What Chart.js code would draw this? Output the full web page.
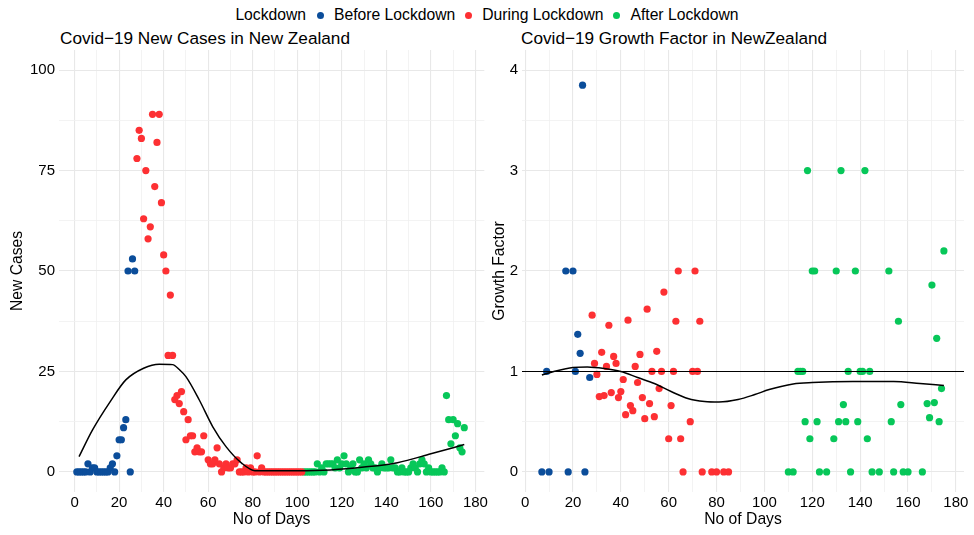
<!DOCTYPE html>
<html lang="en">
<head>
  <meta charset="UTF-8">
  <title>Covid-19 New Zealand</title>
  <script src="https://cdn.jsdelivr.net/npm/chart.js"></script>
  <style>
    body {
      margin: 0;
      background: #fff;
      font-family: "Liberation Sans", Arial, sans-serif;
      color: #000;
    }
    #wrap {
      position: relative;
      width: 974px;
      height: 535px;
      overflow: hidden;
    }
    canvas {
      position: absolute;
      top: 0;
    }
    #leftChart { left: 0; }
    #rightChart { left: 490px; }
    .panel-title {
      position: absolute;
      top: 28px;
      font-size: 17.2px;
      line-height: 20px;
      white-space: nowrap;
    }
    #legend {
      position: absolute;
      top: 5px;
      left: 0;
      width: 974px;
      display: flex;
      justify-content: center;
      align-items: center;
      font-size: 15.7px;
      line-height: 20px;
      white-space: nowrap;
    }
    #legend .name { margin-right: 11px; }
    #legend .dot {
      width: 7px;
      height: 7px;
      border-radius: 50%;
      margin-right: 10px;
    }
    #legend .lab { margin-right: 10px; }
    #legend .lab:last-child { margin-right: 0; }
  </style>
</head>
<body>
<div id="wrap">
  <div id="legend"></div>
  <div class="panel-title" style="left:60px">Covid−19 New Cases in New Zealand</div>
  <div class="panel-title" style="left:521px">Covid−19 Growth Factor in NewZealand</div>
  <canvas id="leftChart" width="490" height="535"></canvas>
  <canvas id="rightChart" width="484" height="535"></canvas>
</div>

<script>
  // lockdown phases
  const phaseNames = ['Before Lockdown', 'During Lockdown', 'After Lockdown'];
  const phaseColors = ['#0b4d9a', '#fd3033', '#07c759'];

  // new cases per day
  const beforeDays = [1,2,3,4,5,6,7,8,9,10,11,12,13,14,15,16,17,18,19,20,21,22,23,24,25,26,27];
  const beforeCases = [0,0,0,0,0,2,0,1,1,0,0,0,0,0,0,1,2,0,4,8,8,11,13,50,0,53,50];

  const duringDays = [28,29,30,31,32,33,34,35,36,37,38,39,40,41,42,43,44,45,46,47,48,49,50,51,52,53,54,55,56,57,58,
    60,61,62,63,64,65,66,67,68,69,70,71,72,73,74,75,76,77,78,79,80,81,82,83,84,85,86,87,88,89,90,91,92,93,94,95,96,97,98,99,100,101,102];
  const duringCases = [78,85,83,63,75,58,61,89,71,82,89,67,54,50,29,44,29,18,19,17,20,15,8,13,9,9,5,6,5,5,9,
    3,2,2,3,6,2,0,1,2,1,1,2,2,3,0,0,0,1,0,1,0,0,4,0,1,0,0,0,0,0,0,0,0,0,0,0,0,0,0,0,0,0,0];

  const afterDays = [103,104,105,106,107,108,109,110,111,112,113,114,115,116,117,118,119,120,121,122,123,124,125,126,127,128,129,130,
    131,132,133,134,135,136,137,138,139,140,141,142,143,144,145,146,147,148,149,150,151,152,153,154,155,156,157,158,159,160,
    161,162,163,164,165,166,167,168,169,170,171,172,173,174,175];
  const afterCases = [0,0,0,0,0,0,2,0,1,0,2,2,2,2,1,3,1,2,4,2,0,1,2,0,0,3,1,2,
    1,3,2,1,1,0,1,2,1,1,1,3,1,1,0,0,1,0,0,0,1,2,1,0,2,3,2,0,1,0,
    0,0,0,0,1,0,19,13,7,13,9,12,6,5,11];

  // growth factor per day
  const gfBeforeDays = [7,9,10,17,18,20,21,22,23,24,25,27];
  const gfBefore = [0,1,0,2,0,2,1,1.37,1.18,3.85,0,0.94];

  const gfDuringDays = [28,29,30,31,32,33,34,35,36,37,38,39,40,41,42,43,44,45,46,47,48,49,50,51,52,53,54,55,56,57,58,
    60,61,62,63,64,65,66,69,70,71,72,73,74,78,80,83,85];
  const gfDuring = [1.56,1.08,0.97,0.75,1.19,0.76,1.05,1.46,0.79,1.15,1.08,0.74,0.8,0.92,0.57,1.51,0.66,0.61,1.05,0.89,1.17,0.74,0.53,1.62,0.68,1.0,0.55,1.2,0.83,1.0,1.79,
    0.33,0.66,1.0,1.5,2.0,0.33,0,0.5,1,2,1,1.5,0,0,0,0,0];

  const gfAfterDays = [110,112,114,115,116,117,118,119,120,121,122,123,126,129,130,131,132,133,134,135,136,138,139,140,141,142,143,144,145,148,
    152,153,154,156,157,158,160,166,168,169,170,171,172,173,174,175];
  const gfAfter = [0,0,1,1,1,0.5,3,0.33,2,2,0.5,0,0,0.33,2,0.5,3,0.67,0.5,1,0,2,0.5,1,1,3,0.33,1,0,0,
    2,0.5,0,1.5,0.67,0,0,0,0.68,0.54,1.86,0.69,1.33,0.5,0.83,2.2];

  // smoothed trend lines
  const casesFitDays = [2,8,16,23,31,38,44,47,50,56,62,68,75,81,90,100,115,130,145,160,175];
  const casesFit = [3.8,10.4,17.5,22.9,25.8,26.8,26.7,25.5,23.7,17.9,11.3,6.3,2.2,0.3,0.3,0.3,0.5,1.2,2.3,4.5,6.8];

  const gfFitDays = [7,12,20,26,33,40,47,54,61,68,75,81,89,96,102,112,120,137,154,165,175];
  const gfFit = [0.965,1.0,1.04,1.045,1.03,1.0,0.94,0.88,0.8,0.73,0.70,0.695,0.72,0.77,0.82,0.876,0.89,0.90,0.90,0.88,0.86];

  const gfReference = 1;

  // axis ticks
  const dayTicks = [0,10,20,30,40,50,60,70,80,90,100,110,120,130,140,150,160,170,180];
  const casesTicks = [0,12.5,25,37.5,50,62.5,75,87.5,100];
  const gfTicks = [0,0.5,1,1.5,2,2.5,3,3.5,4];

  const FONT = '"Liberation Sans", Arial, sans-serif';
  const MAJOR = '#e8e8e8';
  const MINOR = '#f0f0f0';

  // legend
  const legend = document.getElementById('legend');
  legend.innerHTML = '<span class="name">Lockdown</span>' + phaseNames.map((n, i) =>
    '<span class="dot" style="background:' + phaseColors[i] + '"></span><span class="lab">' + n + '</span>').join('');

  const pts = (xs, ys) => xs.map((x, i) => ({ x: x, y: ys[i] }));

  const refLine = {
    id: 'refLine',
    afterDatasetsDraw(chart, args, opts) {
      if (!opts.show) return;
      const { ctx, chartArea: a, scales: { y } } = chart;
      const py = y.getPixelForValue(gfReference);
      ctx.save();
      ctx.strokeStyle = '#000';
      ctx.lineWidth = 1.1;
      ctx.beginPath();
      ctx.moveTo(a.left, py);
      ctx.lineTo(a.right, py);
      ctx.stroke();
      ctx.restore();
    }
  };

  function isMajor(c, every) {
    if (!c.tick) return false;
    const r = c.tick.value / every;
    return Math.abs(r - Math.round(r)) < 1e-6;
  }

  function gridStyle(every) {
    return {
      drawTicks: false,
      color: c => isMajor(c, every) ? MAJOR : MINOR,
      lineWidth: c => isMajor(c, every) ? 1.1 : 0.8
    };
  }

  function makePanel(id, series, fit, o) {
    const datasets = [{
      type: 'line',
      data: pts(fit.x, fit.y),
      borderColor: '#000',
      borderWidth: 1.5,
      pointRadius: 0,
      fill: false,
      cubicInterpolationMode: 'monotone',
      order: 0
    }];
    series.forEach((s, i) => {
      datasets.push({
        label: phaseNames[i],
        data: pts(s.x, s.y),
        backgroundColor: phaseColors[i],
        borderWidth: 0,
        pointRadius: 3.6,
        pointHoverRadius: 3.6,
        order: 1
      });
    });

    return new Chart(document.getElementById(id), {
      type: 'scatter',
      data: { datasets },
      options: {
        responsive: false,
        animation: false,
        devicePixelRatio: 1,
        layout: { padding: { left: 0, right: o.padRight, top: 50, bottom: 0 } },
        plugins: {
          legend: { display: false },
          tooltip: { enabled: false },
          refLine: { show: !!o.refLine }
        },
        scales: {
          x: {
            type: 'linear',
            min: o.xMin,
            max: o.xMax,
            afterBuildTicks: s => { s.ticks = dayTicks.map(v => ({ value: v })); },
            afterFit: s => { s.height = 43; },
            grid: gridStyle(20),
            border: { display: false },
            ticks: {
              autoSkip: false,
              maxRotation: 0,
              padding: 2,
              color: '#000',
              font: { family: FONT, size: 15 },
              callback: v => (v % 20 === 0 ? v : '')
            },
            title: {
              display: true,
              text: 'No of Days',
              color: '#000',
              font: { family: FONT, size: 15.7 },
              padding: { top: 0, bottom: 6 }
            }
          },
          y: {
            type: 'linear',
            min: o.yMin,
            max: o.yMax,
            afterBuildTicks: s => { s.ticks = o.yTicks.map(v => ({ value: v })); },
            afterFit: s => { s.width = o.yWidth; },
            grid: gridStyle(o.yMajor),
            border: { display: false },
            ticks: {
              autoSkip: false,
              padding: 4,
              color: '#000',
              font: { family: FONT, size: 15 },
              callback: v => (v % o.yMajor === 0 ? v : '')
            },
            title: {
              display: true,
              text: o.yTitle,
              color: '#000',
              font: { family: FONT, size: 15.7 },
              padding: { top: o.yTitlePad, bottom: 0 }
            }
          }
        }
      },
      plugins: [refLine]
    });
  }

  makePanel('leftChart',
    [
      { x: beforeDays, y: beforeCases },
      { x: duringDays, y: duringCases },
      { x: afterDays, y: afterCases }
    ],
    { x: casesFitDays, y: casesFit },
    { xMin: -7, xMax: 184, yMin: -5, yMax: 105, yTicks: casesTicks, yMajor: 25,
      yWidth: 59, padRight: 3, yTitle: 'New Cases', yTitlePad: 8 });

  makePanel('rightChart',
    [
      { x: gfBeforeDays, y: gfBefore },
      { x: gfDuringDays, y: gfDuring },
      { x: gfAfterDays, y: gfAfter }
    ],
    { x: gfFitDays, y: gfFit },
    { xMin: -1.3, xMax: 183.4, yMin: -0.2, yMax: 4.2, yTicks: gfTicks, yMajor: 1,
      yWidth: 32, padRight: 10, yTitle: 'Growth Factor', yTitlePad: 0, refLine: true });
</script>
</body>
</html>
